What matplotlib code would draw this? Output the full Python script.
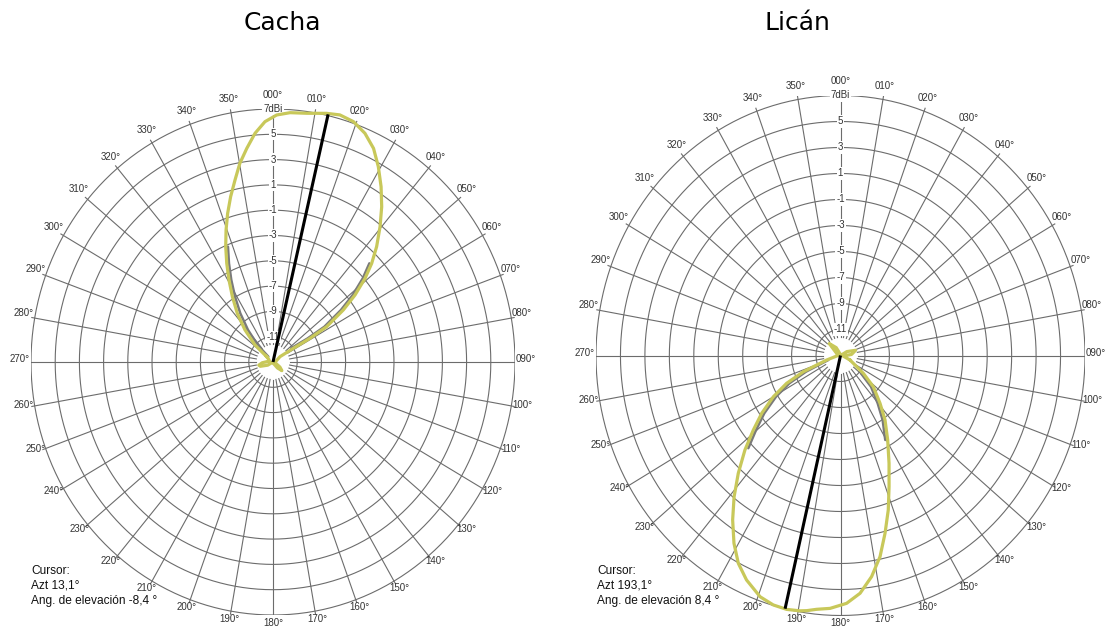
import numpy as np
import matplotlib.pyplot as plt

# gain scale of the chart (dBi): centre of the chart and outer ring
g_min = -13.0
g_max = 7.0
ring_gains = [7, 5, 3, 1, -1, -3, -5, -7, -9, -11]
ring_labels = ['7dBi', '5', '3', '1', '-1', '-3', '-5', '-7', '-9', '-11']
azimuths = list(range(0, 360, 10))

# Cacha: azimuth (deg) / gain (dBi)
cacha_az = [308.8, 312.1, 317.6, 322.5, 327.0, 330.7, 333.9, 336.8, 339.6, 342.3, 345.0,
            347.7, 350.1, 352.7, 355.3, 358.0, 0.9, 4.1, 8.1, 12.7, 15.8, 19.3, 22.8,
            26.2, 29.4, 32.8, 36.2, 39.6, 43.2, 46.3, 49.0, 52.0, 54.7, 57.8, 58.5,
            57.3, 53.9, 85, 110, 125, 133, 142, 165, 210, 240, 252, 258, 266, 285,
            300, 308.8]
cacha_gain = [-12.33, -11.0, -9.57, -8.15, -6.84, -5.57, -4.31, -3.08, -1.87, -0.67, 0.53,
              1.73, 2.94, 4.03, 5.14, 6.01, 6.53, 6.76, 6.86, 7.15, 7.3, 7.13, 6.61,
              5.82, 4.73, 3.49, 2.21, 0.88, -0.49, -1.72, -2.92, -4.4, -5.88, -7.76, -9.41,
              -11.0, -12.28, -12.8, -12.8, -12.3, -12.0, -12.4, -12.9, -13.0, -12.5, -11.9, -11.8, -12.1, -12.7,
              -12.6, -12.33]
# grey trace (second cut), only the parts that show beside the yellow one
cacha_grey_l_az = [337.8, 335.0, 332.0, 328.7, 324.9, 320.8, 316.7, 317.5]
cacha_grey_l_gain = [-3.15, -4.39, -5.66, -6.96, -8.3, -9.73, -11.15, -12.43]
cacha_grey_r_az = [45.6, 48.3, 51.2, 53.8, 56.7, 56.9, 54.0]
cacha_grey_r_gain = [-1.85, -3.07, -4.55, -6.04, -7.92, -9.58, -11.16]
cacha_cursor = (13.1, 7.1)
cacha_text = ['Cursor:', 'Azt 13,1°', 'Ang. de elevación -8,4 °']

# Licán
lican_az = [114, 126.3, 131.8, 138.7, 143.7, 149.3, 154.4, 158.5, 161.8, 165.1, 168.2,
            171.5, 175.0, 178.5, 182.5, 185.7, 188.0, 189.6, 192.7, 196.0, 199.5, 204.0,
            207.6, 211.1, 214.9, 218.7, 222.7, 227.1, 231.2, 235.4, 240.0, 244.1, 247.7,
            253.0, 270, 300, 315, 330, 350, 30, 60, 72, 85, 100, 114]
lican_gain = [-12.15, -10.68, -9.4, -8.1, -6.85, -5.44, -3.81, -2.16, -0.49, 1.16, 2.81,
              4.2, 5.36, 6.07, 6.47, 6.62, 6.82, 6.92, 7.02, 6.96, 6.69, 5.9,
              5.04, 3.87, 2.42, 0.92, -0.67, -2.33, -3.85, -5.17, -6.66, -8.1, -9.71,
              -11.82, -12.8, -12.6, -11.7, -12.3, -12.9, -13.0, -12.4, -11.7, -12.1, -12.8, -12.15]
lican_grey_l_az = [226.6, 230.3, 234.5, 239.0, 242.9, 246.2, 250.8]
lican_grey_l_gain = [-2.62, -4.02, -5.34, -6.85, -8.3, -9.92, -11.95]
lican_grey_r_az = [150.6, 145.2, 140.4, 133.9, 129.3]
lican_grey_r_gain = [-5.54, -6.96, -8.23, -9.54, -10.83]
lican_cursor = (193.1, 7.0)
lican_text = ['Cursor:', 'Azt 193,1°', 'Ang. de elevación 8,4 °']

W, H = 1107, 630
grid_col = '#6c6c6c'
txt_col = '#333333'
yellow = '#c8c85a'
font = 'Liberation Sans'

fig = plt.figure(figsize=(W / 100, H / 100), dpi=100)
fig.patch.set_facecolor('white')


def to_xy(az, gain):
    a = np.radians(np.asarray(az, dtype=float))
    r = np.clip((np.asarray(gain, dtype=float) - g_min) / (g_max - g_min), 0, None)
    return r * np.sin(a), r * np.cos(a)


def polar_panel(cx, cy, rx, ry, az, gain, grey, cursor, lines, tx):
    ax = fig.add_axes([(cx - rx) / W, 1 - (cy + ry) / H, 2 * rx / W, 2 * ry / H])
    ax.set_xlim(-1, 1)
    ax.set_ylim(-1, 1)
    ax.axis('off')

    t = np.linspace(0, 2 * np.pi, 361)
    for g in ring_gains:
        x, y = to_xy(np.degrees(t), np.full_like(t, g))
        ax.plot(x, y, color=grid_col, lw=0.8, zorder=1)
    for a in azimuths:
        s, c = np.sin(np.radians(a)), np.cos(np.radians(a))
        ax.plot([0.07 * s, 1.012 * s], [0.07 * c, 1.012 * c], color=grid_col, lw=0.8, zorder=1)
        ax.annotate('%03d°' % a, xy=(s, c), xytext=(11 * s, 11 * c + 3),
                    textcoords='offset pixels', ha='center', va='center',
                    fontsize=7, family=font, color=txt_col, annotation_clip=False)
    for g, lab in zip(ring_gains, ring_labels):
        x, y = to_xy(0, g)
        ax.text(x, y, lab, ha='center', va='center', fontsize=7, family=font, color=txt_col,
                zorder=2, bbox=dict(boxstyle='square,pad=0.12', fc='white', ec='none'))

    for gaz, gg in grey:
        x, y = to_xy(gaz, gg)
        ax.plot(x, y, color='#7a7a7a', lw=1.8, zorder=3, solid_capstyle='round')
    x, y = to_xy(az, gain)
    ax.plot(x, y, color=yellow, lw=2.3, zorder=4, solid_joinstyle='round')
    x, y = to_xy([cursor[0], cursor[0]], [g_min, cursor[1]])
    ax.plot(x, y, color='black', lw=2.2, zorder=5, solid_capstyle='butt')

    for i, line in enumerate(lines):
        fig.text(tx / W, 1 - (571 + 15 * i) / H, line, ha='left', va='center',
                 fontsize=8.6, family=font, color='#111111')
    return ax


polar_panel(273, 362, 242, 253, cacha_az, cacha_gain,
            [(cacha_grey_l_az, cacha_grey_l_gain), (cacha_grey_r_az, cacha_grey_r_gain)],
            cacha_cursor, cacha_text, 31)
polar_panel(840.5, 355.5, 244.5, 260, lican_az, lican_gain,
            [(lican_grey_l_az, lican_grey_l_gain), (lican_grey_r_az, lican_grey_r_gain)],
            lican_cursor, lican_text, 597)

fig.text(282 / W, 1 - 23 / H, 'Cacha', ha='center', va='center', fontsize=18, family='DejaVu Sans')
fig.text(797 / W, 1 - 23 / H, 'Licán', ha='center', va='center', fontsize=18, family='DejaVu Sans')

fig.savefig('out.png', dpi=100, facecolor='white')
